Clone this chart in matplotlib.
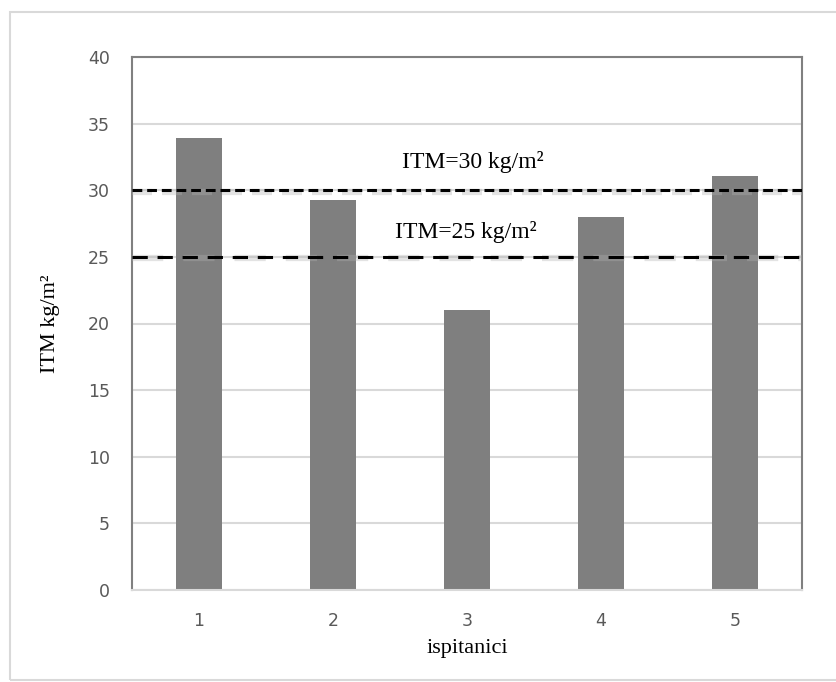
#!/usr/bin/env python
# ITM per ispitanik, with 25 and 30 kg/m2 reference lines

import numpy as np
import matplotlib.pyplot as plt
from matplotlib.patches import Rectangle

# data
ispitanici = ['1', '2', '3', '4', '5']
itm = [33.9, 29.3, 21.0, 28.0, 31.1]
granice = [30, 25]
granice_tekst = ['ITM=30 kg/m²', 'ITM=25 kg/m²']
yticks = [0, 5, 10, 15, 20, 25, 30, 35, 40]

serif = ['Liberation Serif', 'DejaVu Serif']

fig = plt.figure(figsize=(8.37, 6.82), dpi=100)
ax = fig.add_axes([132/837, 1 - 590/682, 670/837, 533/682])

# outer frame like a spreadsheet chart object
fig.patches.append(Rectangle((10/837, 2/682), 1.2, 668/682, transform=fig.transFigure,
                             fill=False, edgecolor='#d9d9d9', linewidth=1.5))

x = np.arange(len(ispitanici))
ax.bar(x, itm, width=0.35, color='#7f7f7f', zorder=2)

# reference lines with a soft shadow
dashes = [(0, (3.2, 1.6)), (0, (5, 3.2))]
for g, d in zip(granice, dashes):
    ax.axhline(g - 0.12, color='#b0b0b0', linewidth=4.5, linestyle=d, zorder=3, alpha=0.35)
    ax.axhline(g, color='black', linewidth=2.2, linestyle=d, zorder=4)

ax.text(2.04, 32.1, granice_tekst[0], ha='center', va='center', fontsize=17,
        family=serif)
ax.text(1.99, 26.9, granice_tekst[1], ha='center', va='center', fontsize=17,
        family=serif)

ax.set_xlim(-0.5, 4.5)
ax.set_ylim(0, 40)
ax.set_xticks(x)
ax.set_xticklabels(ispitanici)
ax.set_yticks(yticks)
ax.grid(axis='y', color='#d9d9d9', linewidth=1.5, zorder=0)
ax.set_axisbelow(True)
ax.tick_params(length=0, labelsize=12.5, labelcolor='#595959')
ax.tick_params(axis='x', pad=16)
ax.tick_params(axis='y', pad=16)
for lab in ax.get_xticklabels() + ax.get_yticklabels():
    lab.set_family(['Liberation Sans Narrow', 'DejaVu Sans'])

for s in ['left', 'top', 'right']:
    ax.spines[s].set_color('#808080')
    ax.spines[s].set_linewidth(1.5)
ax.spines['bottom'].set_color('#d9d9d9')
ax.spines['bottom'].set_linewidth(1.5)

ax.set_xlabel('ispitanici', fontsize=16, family=serif, labelpad=6)
ax.set_ylabel('ITM kg/m²', fontsize=16, family=serif, labelpad=20)

plt.savefig('out.png', dpi=100, facecolor='white')
